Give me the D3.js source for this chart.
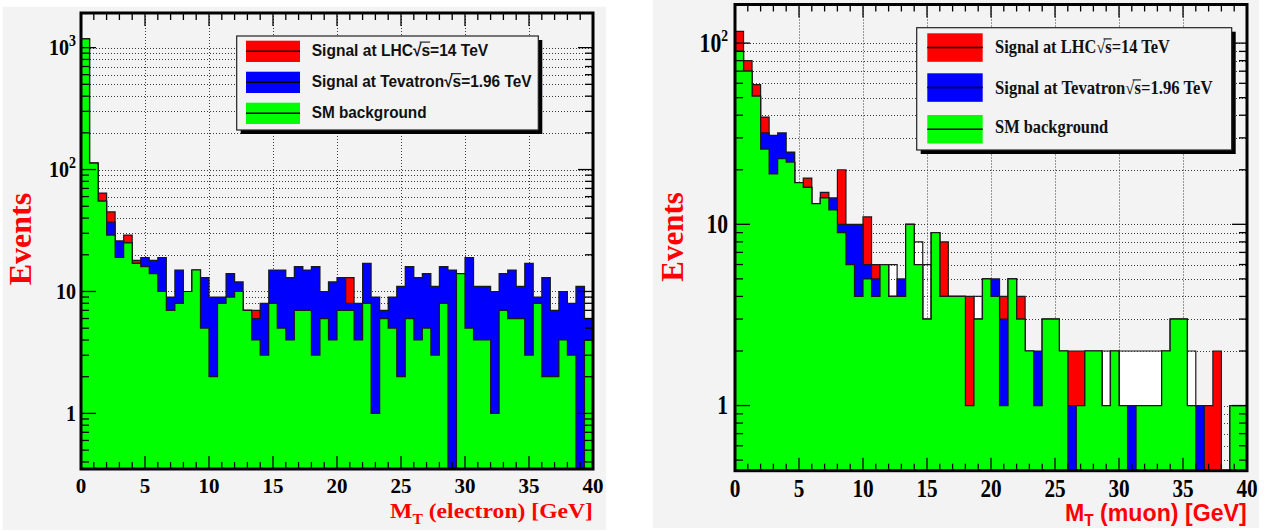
<!DOCTYPE html>
<html>
<head>
<meta charset="utf-8">
<script src="https://cdn.jsdelivr.net/npm/d3@7/dist/d3.min.js"></script>
<style>
html,body{margin:0;padding:0;background:#ffffff;}
svg{display:block;}
</style>
</head>
<body>
<svg id="chart" width="1272" height="531"></svg>
<script>
// ---------------- data ----------------
const binLow = 0, binHigh = 40, nBins = 60;
const xTickValues = [0, 5, 10, 15, 20, 25, 30, 35, 40];
const xTickLabels = ["0", "5", "10", "15", "20", "25", "30", "35", "40"];

const legendLabels = ["Signal at LHC\u221As=14 TeV", "Signal at Tevatron\u221As=1.96 TeV", "SM background"];
const seriesColors = ["#ff0000", "#0000ff", "#00ff00"];

// electron channel (left)
const electronLHC = [1180,113,64,45,19,29,18,16,14,10, 7,8,10,15,5,2,8,9,10,7, 7,3,8,5,4,7,7,3,6,4, 7,13,4,8,1,6,5,2,6,4, 5,3,8,0,14,5,4,4,1,7, 6,6,3,8,2,2,4,3,0,4];
const electronTevatron = [1180,113,55,37,26,25,17,19,18,19, 9,15,10,15,13,9,9,14,12,7, 6,8,15,15,13,16,15,16,10,12, 13,8,8,17,9,7,9,11,16,13, 14,11,16,15,14,19,11,11,10,14, 15,11,17,9,13,7,10,8,11,6];
const electronSM = [1180,113,55,29,19,25,17,16,14,10, 7,8,10,15,5,2,8,9,10,7, 4,3,8,5,4,7,7,3,6,4, 7,7,4,8,1,6,5,2,6,4, 5,3,8,0,14,5,4,4,1,7, 6,6,3,8,2,2,4,3,0,4];
const electronUnlabelled = [0,0,0,0,0,0,0,0,0,0, 0,0,0,0,0,0,0,0,0,0, 0,0,0,0,0,0,0,0,0,0, 0,0,0,0,0,0,0,0,0,0, 0,0,0,0,0,0,0,0,0,0, 0,0,0,0,0,0,0,0,0,0];
const electronYTicks = [1, 10, 100, 1000];
const electronYLabels = [["1",""], ["10",""], ["10","2"], ["10","3"]];

// muon channel (right)
const muonLHC = [116,80,59,39,19,23,22,17,18,13, 15,12,20,6,4,11,6,6,4,4, 10,6,3,9,8,4,4,4,3,5, 4,4,5,4,2,1,3,3,2,2, 2,2,2,1,2,1,0,1,1,1, 2,3,3,1,0,1,2,0,1,1];
const muonTevatron = [90,70,51,32,31,32,25,17,16,13, 14,14,10,10,10,6,5,6,4,5, 10,6,3,9,4,4,4,1,3,5, 5,3,5,3,2,2,3,3,2,1, 1,2,2,1,2,1,1,1,1,1, 2,3,3,1,1,0,0,0,1,1];
const muonSM = [90,70,51,26,19,23,22,17,16,13, 14,12,9,6,4,5,4,6,4,4, 10,6,3,9,4,4,4,1,3,5, 4,1,5,3,2,1,3,3,2,0, 1,2,2,1,2,1,0,1,1,1, 2,3,3,1,0,0,0,0,1,1];
const muonUnlabelled = [0,0,0,0,0,0,0,0,0,0, 0,0,0,0,0,0,0,0,6,0, 0,8,6,0,0,0,0,0,4,0, 0,0,0,0,0,0,0,0,0,0, 0,0,0,2,0,2,2,2,2,2, 0,0,0,2,0,0,0,0,0,0];
const muonYTicks = [1, 10, 100];
const muonYLabels = [["1",""], ["10",""], ["10","2"]];

// ---------------- drawing ----------------
const svg = d3.select("#chart");
const PAD_FILL = "#f3f3f3";
const OUTLINE = "#1a1a1a";
const GRID = "#3a3a3a";
const SERIF = "'Liberation Serif','Times New Roman',Times,serif";
const SANS = "'Liberation Sans',Arial,Helvetica,sans-serif";
const edges = d3.range(nBins + 1).map(i => binLow + i * (binHigh - binLow) / nBins);
const defs = svg.append("defs");

function histLine(vals, x, y, yb) {
  const pts = [[x(edges[0]), yb]];
  vals.forEach((v, i) => {
    const yy = v > 0 ? y(v) : yb;
    pts.push([x(edges[i]), yy], [x(edges[i + 1]), yy]);
  });
  pts.push([x(edges[nBins]), yb]);
  return d3.line()(pts);
}

function logTicks(lo, hi) {
  const out = [];
  for (let e = Math.floor(Math.log10(lo)); e <= Math.ceil(Math.log10(hi)); e++) {
    for (let m = 1; m <= 9; m++) {
      const v = m * Math.pow(10, e);
      if (v >= lo && v <= hi) out.push({ v: v, major: m === 1 });
    }
  }
  return out;
}

function scaledText(parent, x, y, sx, build) {
  const g = parent.append("g").attr("transform", `translate(${x},${y}) scale(${sx},1)`);
  const t = g.append("text").attr("x", 0).attr("y", 0);
  build(t);
  return { g, t };
}

function drawPanel(P) {
  const g = svg.append("g");
  g.append("rect").attr("x", P.pad[0]).attr("y", P.pad[1]).attr("width", P.pad[2]).attr("height", P.pad[3]).attr("fill", PAD_FILL);
  const [fx0, fy0, fx1, fy1] = P.frame;
  const x = d3.scaleLinear().domain([binLow, binHigh]).range([fx0, fx1]);
  const y = d3.scaleLog().domain(P.yDomain).range([fy1, fy0]).clamp(true);

  const clipId = "clip-" + P.id;
  defs.append("clipPath").attr("id", clipId).append("rect")
    .attr("x", fx0).attr("y", fy0).attr("width", fx1 - fx0).attr("height", fy1 - fy0);
  const plot = g.append("g").attr("clip-path", `url(#${clipId})`);

  const hist = (vals, color) => {
    const d = histLine(vals, x, y, fy1);
    plot.append("path").attr("d", d + "Z").attr("fill", color).attr("stroke", "none").attr("shape-rendering", "crispEdges");
    plot.append("path").attr("d", d).attr("fill", "none").attr("stroke", OUTLINE).attr("stroke-width", 1.2);
  };

  hist(P.series[3], "#ffffff");

  // grid
  const grid = plot.append("g").attr("stroke", GRID).attr("stroke-width", 1).attr("stroke-dasharray", "1,2");
  xTickValues.filter(v => v > binLow && v < binHigh).forEach(v => {
    grid.append("line").attr("x1", Math.round(x(v)) + 0.5).attr("x2", Math.round(x(v)) + 0.5).attr("y1", fy0).attr("y2", fy1);
  });
  const yt = logTicks(P.yDomain[0], P.yDomain[1]);
  yt.forEach(t => {
    const yy = Math.round(y(t.v)) + 0.5;
    grid.append("line").attr("x1", fx0).attr("x2", fx1).attr("y1", yy).attr("y2", yy);
  });

  hist(P.series[0], seriesColors[0]);
  hist(P.series[1], seriesColors[1]);
  hist(P.series[2], seriesColors[2]);

  // ticks
  const tk = g.append("g").attr("stroke", "#000").attr("stroke-width", 1.3);
  d3.range(binLow, binHigh + 1, 1).forEach(v => {
    const major = v % 5 === 0;
    const len = major ? 13 : 7;
    const xx = x(v);
    tk.append("line").attr("x1", xx).attr("x2", xx).attr("y1", fy1).attr("y2", fy1 - len);
    tk.append("line").attr("x1", xx).attr("x2", xx).attr("y1", fy0).attr("y2", fy0 + len);
  });
  yt.forEach(t => {
    const len = t.major ? 15 : 8;
    const yy = y(t.v);
    tk.append("line").attr("x1", fx0).attr("x2", fx0 + len).attr("y1", yy).attr("y2", yy);
    tk.append("line").attr("x1", fx1).attr("x2", fx1 - len).attr("y1", yy).attr("y2", yy);
  });

  // frame
  g.append("rect").attr("x", fx0).attr("y", fy0).attr("width", fx1 - fx0).attr("height", fy1 - fy0)
    .attr("fill", "none").attr("stroke", "#000").attr("stroke-width", 3);

  // x tick labels
  xTickValues.forEach((v, i) => {
    scaledText(g, x(v), P.xLab.base, P.xLab.sx, t => t
      .attr("text-anchor", "middle").attr("font-family", SERIF).attr("font-weight", "bold")
      .attr("font-size", P.xLab.size).attr("fill", "#000").text(xTickLabels[i]));
  });
  // y tick labels
  P.yTicks.forEach((v, i) => {
    const [main, sup] = P.yLabels[i];
    scaledText(g, P.yLab.right, y(v) + P.yLab.size * 0.33, P.yLab.sx, t => {
      t.attr("text-anchor", "end").attr("font-family", SERIF).attr("font-weight", "bold")
        .attr("font-size", P.yLab.size).attr("fill", "#000");
      t.append("tspan").text(main);
      if (sup) t.append("tspan").attr("dy", -P.yLab.supDy).attr("font-size", P.yLab.supSize).text(sup);
    });
  });

  // y title
  g.append("text").attr("transform", `translate(${P.yTitle.x},${P.yTitle.y}) rotate(-90)`)
    .attr("text-anchor", "middle").attr("font-family", SERIF).attr("font-weight", "bold")
    .attr("font-size", P.yTitle.size).attr("fill", "#ff0000").text("Events");

  // x title
  const xt = scaledText(g, P.xTitle.right, P.xTitle.base, 1, t => {
    t.attr("text-anchor", "end").attr("font-family", P.xTitle.font).attr("font-weight", "bold")
      .attr("font-size", P.xTitle.size).attr("fill", "#ff0000");
    t.append("tspan").text("M");
    t.append("tspan").attr("dy", P.xTitle.subDy).attr("font-size", P.xTitle.size * 0.66).text("T");
    t.append("tspan").attr("dy", -P.xTitle.subDy).text(" " + P.xTitle.rest);
  });
  const xtw = xt.t.node().getComputedTextLength();
  xt.g.attr("transform", `translate(${P.xTitle.right},${P.xTitle.base}) scale(${P.xTitle.width / xtw},1)`);

  // legend
  const L = P.legend;
  const lg = g.append("g");
  lg.append("rect").attr("x", L.x + L.sh).attr("y", L.y + L.sh).attr("width", L.w).attr("height", L.h).attr("fill", "#000");
  lg.append("rect").attr("x", L.x).attr("y", L.y).attr("width", L.w).attr("height", L.h)
    .attr("fill", PAD_FILL).attr("stroke", "#222").attr("stroke-width", 1.2);
  legendLabels.forEach((lab, i) => {
    const top = L.tops[i];
    lg.append("rect").attr("x", L.s0).attr("y", top).attr("width", L.s1 - L.s0).attr("height", L.sh2).attr("fill", seriesColors[i]);
    lg.append("line").attr("x1", L.s0).attr("x2", L.s1).attr("y1", top + L.sh2 / 2).attr("y2", top + L.sh2 / 2)
      .attr("stroke", "#000").attr("stroke-width", 1.5);
    const o = scaledText(lg, L.tx, L.bases[i], 1, t => t
      .attr("font-family", L.font).attr("font-weight", "bold").attr("font-size", L.size).attr("fill", "#111").text(lab));
    const w = o.t.node().getComputedTextLength();
    o.g.attr("transform", `translate(${L.tx},${L.bases[i]}) scale(${L.widths[i] / w},1)`);
    const k = lab.indexOf("\u221A");
    if (k >= 0) {
      const er = o.t.node().getExtentOfChar(k);
      const es = o.t.node().getExtentOfChar(k + 1);
      o.g.append("line").attr("x1", er.x + er.width * 0.8).attr("x2", es.x + es.width)
        .attr("y1", -L.size * 0.8).attr("y2", -L.size * 0.8).attr("stroke", "#111").attr("stroke-width", 1.1);
    }
  });
}

drawPanel({
  id: "electron",
  pad: [2.7, 6.7, 603.3, 523.3],
  frame: [81, 13, 593, 469],
  yDomain: [0.35, 1923],
  series: [electronLHC, electronTevatron, electronSM, electronUnlabelled],
  yTicks: electronYTicks, yLabels: electronYLabels,
  xLab: { size: 21, sx: 1, base: 493 },
  yLab: { size: 23, sx: 0.87, supSize: 16, supDy: 9, right: 76 },
  yTitle: { x: 31, y: 239, size: 32 },
  xTitle: { right: 593, base: 518, size: 22, subDy: 6, width: 203, font: SERIF, rest: "(electron) [GeV]" },
  legend: {
    x: 236.7, y: 36, w: 301.6, h: 94, sh: 4,
    s0: 246, s1: 300, sh2: 21.3, tops: [40.7, 71.7, 102.7],
    tx: 311.7, bases: [55.7, 87.3, 118.3], widths: [176.6, 220, 115],
    font: SANS, size: 17
  }
});

drawPanel({
  id: "muon",
  pad: [652.7, 0, 606.3, 528],
  frame: [735, 4.5, 1247, 470.7],
  yDomain: [0.437, 163.3],
  series: [muonLHC, muonTevatron, muonSM, muonUnlabelled],
  yTicks: muonYTicks, yLabels: muonYLabels,
  xLab: { size: 25, sx: 0.85, base: 497 },
  yLab: { size: 27, sx: 0.8, supSize: 17, supDy: 11, right: 728 },
  yTitle: { x: 683, y: 237, size: 31 },
  xTitle: { right: 1246.7, base: 521, size: 24, subDy: 4.5, width: 181.7, font: SANS, rest: "(muon) [GeV]" },
  legend: {
    x: 916.7, y: 27.7, w: 315, h: 122.3, sh: 4,
    s0: 927.3, s1: 982.7, sh2: 28.5, tops: [33.3, 73.3, 115],
    tx: 995, bases: [53.3, 94.3, 133.3], widths: [175, 217.7, 113.3],
    font: SERIF, size: 18
  }
});
</script>
</body>
</html>
